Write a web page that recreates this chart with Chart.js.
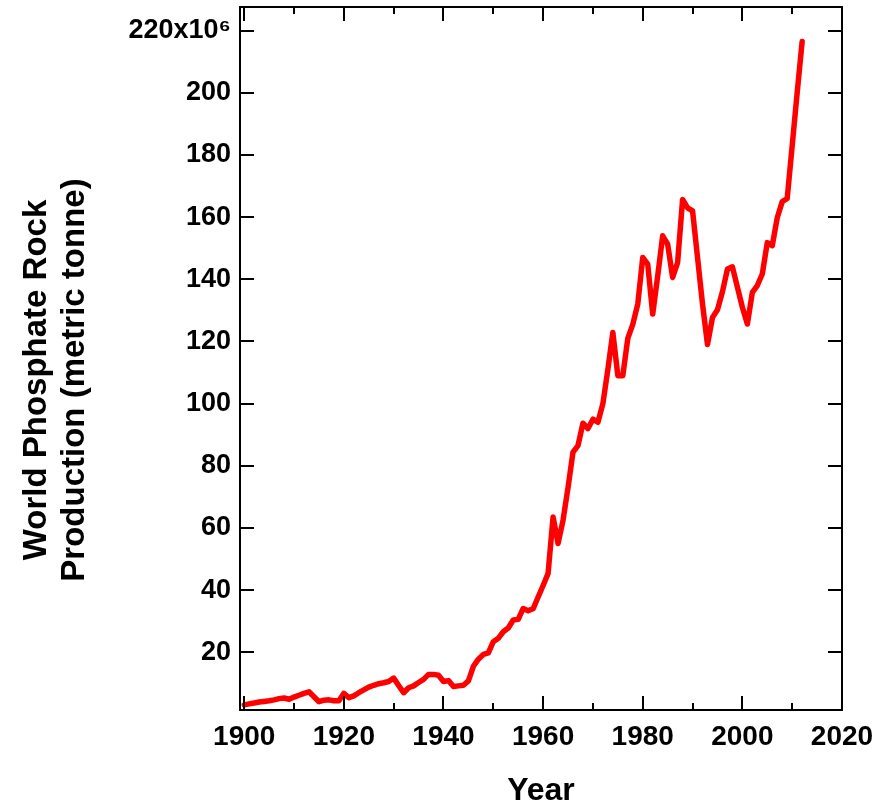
<!DOCTYPE html>
<html>
<head>
<meta charset="utf-8">
<title>World Phosphate Rock Production</title>
<script src="https://cdn.jsdelivr.net/npm/chart.js@4.4.1/dist/chart.umd.min.js"></script>
<style>
  html, body { margin: 0; padding: 0; background: #fff; }
  canvas { display: block; }
</style>
</head>
<body>
<canvas id="myChart" width="894" height="807"></canvas>
<script>
// world phosphate rock production, millions of metric tonnes (axis label is x10^6)
const years = [
    1900, 1901, 1902, 1903, 1904, 1905, 1906, 1907, 1908, 1909,
    1910, 1911, 1912, 1913, 1914, 1915, 1916, 1917, 1918, 1919,
    1920, 1921, 1922, 1923, 1924, 1925, 1926, 1927, 1928, 1929,
    1930, 1931, 1932, 1933, 1934, 1935, 1936, 1937, 1938, 1939,
    1940, 1941, 1942, 1943, 1944, 1945, 1946, 1947, 1948, 1949,
    1950, 1951, 1952, 1953, 1954, 1955, 1956, 1957, 1958, 1959,
    1960, 1961, 1962, 1963, 1964, 1965, 1966, 1967, 1968, 1969,
    1970, 1971, 1972, 1973, 1974, 1975, 1976, 1977, 1978, 1979,
    1980, 1981, 1982, 1983, 1984, 1985, 1986, 1987, 1988, 1989,
    1990, 1991, 1992, 1993, 1994, 1995, 1996, 1997, 1998, 1999,
    2000, 2001, 2002, 2003, 2004, 2005, 2006, 2007, 2008, 2009,
    2010, 2011, 2012
];
const production = [
    3.1, 3.4, 3.7, 4.0, 4.2, 4.4, 4.7, 5.1, 5.3, 4.9,
    5.6, 6.2, 6.8, 7.3, 5.7, 4.1, 4.6, 4.7, 4.4, 4.4,
    6.8, 5.4, 6.0, 7.0, 7.9, 8.8, 9.4, 9.9, 10.2, 10.6,
    11.7, 9.3, 7.0, 8.6, 9.2, 10.3, 11.3, 12.9, 12.9, 12.6,
    10.6, 10.9, 9.0, 9.2, 9.4, 10.8, 15.5, 17.8, 19.3, 19.8,
    23.4, 24.5, 26.6, 27.8, 30.4, 30.6, 34.1, 33.4, 34.0, 37.8,
    41.5, 45.4, 63.5, 55.0, 62.5, 73.0, 84.4, 86.5, 93.7, 92.0,
    95.0, 94.0, 100.0, 111.0, 122.9, 109.0, 109.0, 121.0, 125.5, 132.0,
    147.0, 144.9, 128.8, 141.0, 154.0, 151.3, 140.6, 145.4, 165.7, 163.0,
    162.0, 147.0, 132.0, 119.0, 127.7, 130.2, 136.0, 143.3, 144.0, 137.5,
    131.0, 125.6, 135.8, 138.0, 141.7, 151.8, 150.8, 159.8, 165.0, 166.0,
    183.0, 200.0, 216.5
];
const yearTicks = [1900, 1920, 1940, 1960, 1980, 2000, 2020];
const yearMinorTicks = [1910, 1930, 1950, 1970, 1990, 2010];
const productionTicks = [20, 40, 60, 80, 100, 120, 140, 160, 180, 200, 220];

const font = "'Liberation Sans', Arial, Helvetica, sans-serif";

const points = years.map((y, i) => ({ x: y, y: production[i] }));

// box round the plot with inward ticks on all four sides
const frame = {
    id: 'frame',
    afterDatasetsDraw(chart) {
        const ctx = chart.ctx;
        const a = chart.chartArea;
        const xs = chart.scales.x, ys = chart.scales.y;
        ctx.save();
        ctx.strokeStyle = '#000';
        ctx.lineWidth = 2;
        ctx.strokeRect(a.left, a.top, a.right - a.left, a.bottom - a.top);
        ctx.beginPath();
        yearTicks.forEach(v => {
            const px = Math.round(xs.getPixelForValue(v));
            ctx.moveTo(px, a.bottom); ctx.lineTo(px, a.bottom - 14);
            ctx.moveTo(px, a.top); ctx.lineTo(px, a.top + 14);
        });
        yearMinorTicks.forEach(v => {
            const px = Math.round(xs.getPixelForValue(v));
            ctx.moveTo(px, a.bottom); ctx.lineTo(px, a.bottom - 7);
            ctx.moveTo(px, a.top); ctx.lineTo(px, a.top + 7);
        });
        productionTicks.forEach(v => {
            const py = Math.round(ys.getPixelForValue(v));
            ctx.moveTo(a.left, py); ctx.lineTo(a.left + 14, py);
            ctx.moveTo(a.right, py); ctx.lineTo(a.right - 14, py);
        });
        ctx.stroke();
        ctx.restore();
    },
    afterDraw(chart) {
        // two line rotated y title
        const ctx = chart.ctx;
        ctx.save();
        ctx.fillStyle = '#000';
        ctx.font = 'bold 33px ' + font;
        ctx.textAlign = 'center';
        ctx.textBaseline = 'middle';
        ctx.translate(0, 380);
        ctx.rotate(-Math.PI / 2);
        ctx.fillText('World Phosphate Rock', 0, 37);
        ctx.fillText('Production (metric tonne)', 0, 75);
        ctx.restore();
    }
};

const ctx = document.getElementById('myChart').getContext('2d');
const myChart = new Chart(ctx, {
    type: 'line',
    data: {
        datasets: [{
            label: 'World phosphate rock production',
            data: points,
            borderColor: '#ff0000',
            borderWidth: 5.5,
            borderJoinStyle: 'round',
            borderCapStyle: 'round',
            pointRadius: 0,
            tension: 0,
            fill: false
        }]
    },
    options: {
        responsive: false,
        animation: false,
        layout: { padding: { top: 7, right: 52, left: 0, bottom: 0 } },
        plugins: {
            legend: { display: false },
            tooltip: { enabled: false }
        },
        scales: {
            x: {
                type: 'linear',
                min: 1899.15,
                max: 2020,
                afterBuildTicks: s => { s.ticks = yearTicks.map(v => ({ value: v })); },
                afterFit: s => { s.height = 97; s.paddingLeft = 0; s.paddingRight = 0; },
                grid: { display: false, drawTicks: false },
                border: { display: false },
                ticks: {
                    padding: 10,
                    color: '#000',
                    maxRotation: 0,
                    autoSkip: false,
                    font: { family: font, size: 28, weight: 'bold' },
                    callback: v => String(v)
                },
                title: {
                    display: true,
                    text: 'Year',
                    color: '#000',
                    font: { family: font, size: 32, weight: 'bold' },
                    padding: { top: 0, bottom: -3 }
                }
            },
            y: {
                min: 1.44,
                max: 227.6,
                afterBuildTicks: s => { s.ticks = productionTicks.map(v => ({ value: v })); },
                afterFit: s => { s.width = 240; s.paddingTop = 0; s.paddingBottom = 0; },
                grid: { display: false, drawTicks: false },
                border: { display: false },
                ticks: {
                    padding: 9,
                    color: '#000',
                    font: { family: font, size: 27, weight: 'bold' },
                    callback: v => v === 220 ? '220x10\u2076' : String(v)
                }
            }
        }
    },
    plugins: [frame]
});
</script>
</body>
</html>
